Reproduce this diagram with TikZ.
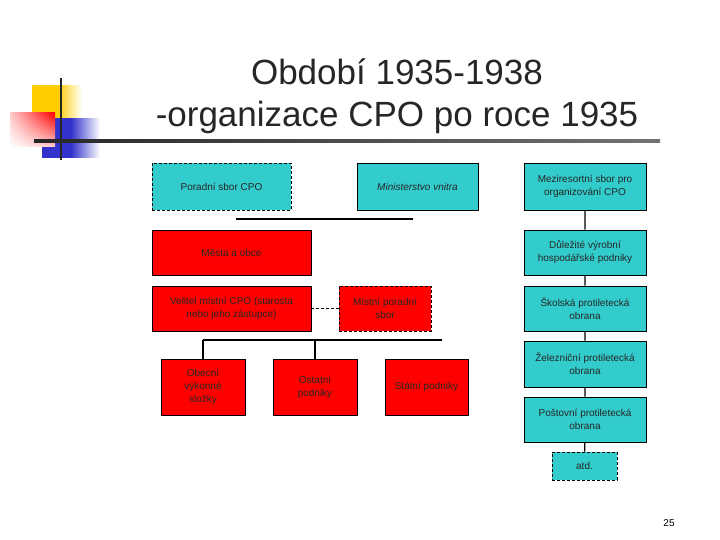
\documentclass[tikz,border=0pt]{standalone}
\usepackage{fontspec}
\setmainfont{Liberation Sans}
\usetikzlibrary{shadings}
\definecolor{tyrkys}{HTML}{33CCCC}
\definecolor{cervena}{HTML}{FF0000}
\definecolor{zluta}{HTML}{FFCC00}
\definecolor{modra}{HTML}{3333CC}

\begin{document}
\begin{tikzpicture}[x=1pt,y=-1pt,
    box/.style={draw=black, line width=0.6pt, inner sep=1pt, align=center,
        font=\fontsize{10}{13}\selectfont, text=black!85},
    tbox/.style={box, fill=tyrkys},
    rbox/.style={box, fill=cervena},
    carkovane/.style={dashed, dash pattern=on 3pt off 2pt},
    spoj/.style={line width=1.2pt}]
\useasboundingbox (0,0) rectangle (720,540);
% logo
\shade[left color=modra, right color=white, middle color=modra] (42,119) rectangle (100,158);
\shade[left color=zluta, right color=white, middle color=zluta] (32,86) rectangle (82,118);
\shade[upper right=cervena, upper left=cervena!20, lower right=cervena!20, lower left=white] (10,113) rectangle (55,147);
\draw[line width=2.5pt, black!85] (61,78) -- (61,160);
\shade[left color=black!85, right color=black!55] (34,139.8) rectangle (660,142.2);
% nadpis
\node[font=\fontsize{35}{40}\selectfont, text=black!85] (nadpis1) at (397,72) {Období 1935-1938};
\node[font=\fontsize{35}{40}\selectfont, text=black!85] (nadpis2) at (397,117) {-organizace CPO po roce 1935};
% schema
\node[tbox, carkovane, minimum width=139pt, minimum height=47pt] (poradni) at (221.5,186.5) {Poradní sbor CPO};
\node[tbox, minimum width=121pt, minimum height=47pt, font=\fontsize{10}{13}\selectfont\itshape] (ministerstvo) at (417.5,186.5) {Ministerstvo vnitra};
\node[tbox, minimum width=122pt, minimum height=47pt] (mezi) at (585,186.5) {Meziresortní sbor pro\\organizování CPO};
\node[tbox, minimum width=122pt, minimum height=45pt] (dulezite) at (585,252.5) {Důležité výrobní\\hospodářské podniky};
\node[tbox, minimum width=122pt, minimum height=45pt] (skolska) at (585,308.5) {Školská protiletecká\\obrana};
\node[tbox, minimum width=122pt, minimum height=46pt] (zeleznicni) at (585,364) {Železniční protiletecká\\obrana};
\node[tbox, minimum width=122pt, minimum height=45pt] (postovni) at (585,419.5) {Poštovní protiletecká\\obrana};
\node[tbox, carkovane, minimum width=65pt, minimum height=28pt] (atd) at (584.5,466) {atd.};
\node[rbox, minimum width=159pt, minimum height=45pt] (mesta) at (231.5,252.5) {Města a obce};
\node[rbox, minimum width=159pt, minimum height=45pt] (velitel) at (231.5,308.5) {Velitel místní CPO (starosta\\nebo jeho zástupce)};
\node[rbox, carkovane, minimum width=92pt, minimum height=45pt] (mistni) at (385,308.5) {Místní poradní\\sbor};
\node[rbox, minimum width=84pt, minimum height=56pt] (obecni) at (203,387) {Obecní\\výkonné\\složky};
\node[rbox, minimum width=84pt, minimum height=56pt] (ostatni) at (315,387) {Ostatní\\podniky};
\node[rbox, minimum width=83pt, minimum height=56pt] (statni) at (426.5,387) {Státní podniky};
% spojnice
\coordinate (h1) at (236,219);
\coordinate (h2) at (413,219);
\draw[spoj] (h1) -- (h2);
\draw[spoj] (mezi) -- (dulezite) (dulezite) -- (skolska) (skolska) -- (zeleznicni)
    (zeleznicni) -- (postovni) (postovni) -- (atd);
\draw[spoj, line width=0.8pt, carkovane] (velitel) -- (mistni);
\coordinate (b1) at (203,340);
\coordinate (b2) at (442,340);
\draw[spoj] (b1) -- (b2);
\draw[spoj] (b1) -- (obecni.north);
\draw[spoj] (ostatni.north |- b1) -- (ostatni.north);
\node[font=\fontsize{10}{12}\selectfont] (strana) at (669,523) {25};
\end{tikzpicture}
\end{document}
